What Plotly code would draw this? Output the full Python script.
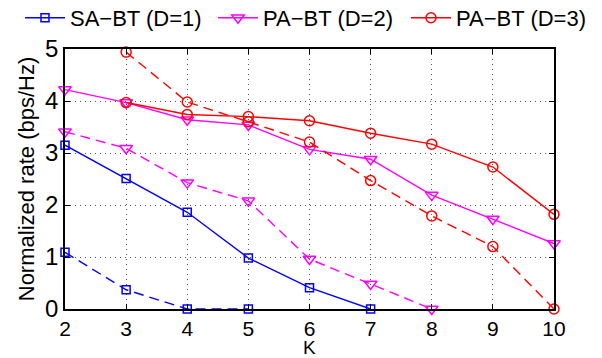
import plotly.graph_objects as go

K = [2, 3, 4, 5, 6, 7, 8, 9, 10]

# SA-BT (D=1)
sa_d1_solid_k = [2, 3, 4, 5, 6, 7]
sa_d1_solid = [3.15, 2.51, 1.86, 0.98, 0.41, 0.0]
sa_d1_dash_k = [2, 3, 4, 5]
sa_d1_dash = [1.09, 0.37, 0.0, 0.0]

# PA-BT (D=2)
pa_d2_solid_k = K
pa_d2_solid = [4.22, 3.97, 3.64, 3.54, 3.07, 2.88, 2.19, 1.73, 1.26]
pa_d2_dash_k = [2, 3, 4, 5, 6, 7, 8]
pa_d2_dash = [3.41, 3.09, 2.43, 2.08, 0.96, 0.48, 0.0]

# PA-BT (D=3)
pa_d3_solid_k = [3, 4, 5, 6, 7, 8, 9, 10]
pa_d3_solid = [3.97, 3.74, 3.70, 3.62, 3.38, 3.17, 2.73, 1.82]
pa_d3_dash_k = [3, 4, 5, 6, 7, 8, 9, 10]
pa_d3_dash = [4.94, 3.98, 3.60, 3.21, 2.47, 1.79, 1.20, 0.0]

x_ticks = list(range(2, 11))
y_ticks = [0, 1, 2, 3, 4, 5]

BLUE = "#0000ff"
MAGENTA = "#ff00ff"
RED = "#ff0000"
FONT = "Liberation Sans, Arial, sans-serif"
DASH = "10px,6px"
W, H = 602, 358
M_L, M_R, M_T, M_B = 65, 48, 49, 49
PLOT_H = H - M_T - M_B

fig = go.Figure()

def add(xs, ys, color, symbol, size, dash, name, legend, legend_id="legend"):
    fig.add_trace(go.Scatter(
        x=xs, y=ys, mode="lines+markers", name=name, showlegend=legend,
        legend=legend_id,
        line=dict(color=color, width=1.4, dash=dash),
        marker=dict(symbol=symbol, size=size, color=color,
                    line=dict(color=color, width=1.5)),
        cliponaxis=False,
    ))

add(sa_d1_solid_k, sa_d1_solid, BLUE, "square-open", 8, "solid", "SA\u2212BT (D=1)", True, "legend")
add(pa_d2_solid_k, pa_d2_solid, MAGENTA, "triangle-down-open", 11, "solid", "PA\u2212BT (D=2)", True, "legend2")
add(pa_d3_solid_k, pa_d3_solid, RED, "circle-open", 10, "solid", "PA\u2212BT (D=3)", True, "legend3")
add(sa_d1_dash_k, sa_d1_dash, BLUE, "square-open", 8, DASH, "SA\u2212BT (D=1) dashed", False)
add(pa_d2_dash_k, pa_d2_dash, MAGENTA, "triangle-down-open", 11, DASH, "PA\u2212BT (D=2) dashed", False)
add(pa_d3_dash_k, pa_d3_dash, RED, "circle-open", 10, DASH, "PA\u2212BT (D=3) dashed", False)

axis_common = dict(
    showline=True, linecolor="black", linewidth=1.5, mirror="allticks",
    ticks="inside", ticklen=5, tickcolor="black",
    showgrid=True, gridcolor="#555555", griddash="1px,4px", gridwidth=1,
    zeroline=False,
)

fig.update_xaxes(range=[2, 10], tickvals=x_ticks, ticktext=[str(v) for v in x_ticks],
                 tickfont=dict(family=FONT, size=21, color="black"),
                 **axis_common)
fig.update_yaxes(range=[0, 5], tickvals=y_ticks, ticktext=[str(v) for v in y_ticks],
                 tickfont=dict(family=FONT, size=24, color="black"),
                 title=dict(text="Normalized rate (bps/Hz)",
                            font=dict(family=FONT, size=22, color="black"),
                            standoff=4),
                 **axis_common)

# x-axis title placed just under the tick labels
fig.add_annotation(text="K", xref="paper", yref="paper", x=0.5, y=-(38 / PLOT_H),
                   xanchor="center", yanchor="middle", showarrow=False,
                   font=dict(family=FONT, size=19, color="black"))

def legend_box(left_px):
    return dict(orientation="h", x=left_px / W, xanchor="left",
                y=1 - 18 / H, yanchor="middle",
                yref="container", xref="container",
                font=dict(family=FONT, size=22, color="black"),
                itemwidth=40, bgcolor="rgba(0,0,0,0)")

fig.update_layout(
    width=W, height=H,
    margin=dict(l=M_L, r=M_R, t=M_T, b=M_B, autoexpand=False),
    plot_bgcolor="white", paper_bgcolor="white",
    font=dict(family=FONT, color="black"),
    legend=legend_box(20),
    legend2=legend_box(213),
    legend3=legend_box(406),
)

fig.write_html("out.html")
